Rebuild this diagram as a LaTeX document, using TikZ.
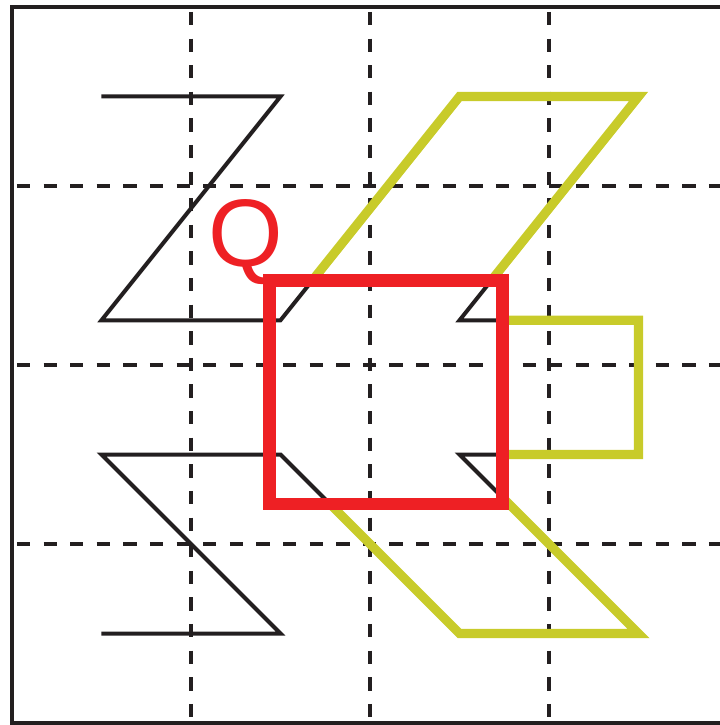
\documentclass[tikz,border=0pt]{standalone}
\usepackage{fontspec}
\setsansfont{Liberation Sans}
\usepackage{tikz}
\definecolor{ink}{HTML}{231F20}
\definecolor{moved}{HTML}{C8CB2A}
\definecolor{qred}{HTML}{EE2024}
\tikzset{
  frame/.style={draw=ink,line width=1.4pt},
  gridln/.style={draw=ink,line width=1.27pt,dash pattern=on 4.23pt off 4.23pt,dash phase=6.9pt},
  edge/.style={draw=ink,line width=1.27pt},
  movededge/.style={draw=moved,line width=2.9pt},
  region/.style={draw=qred,line width=4pt},
  qlabel/.style={text=qred,inner sep=0pt,anchor=base,
    font=\sffamily\fontsize{30.5}{36}\selectfont},
}

\begin{document}
\begin{tikzpicture}[x=2cm,y=2cm]
  \useasboundingbox (-0.067,-0.011) rectangle (3.955,4.039);
  \draw[frame] (0,0) rectangle (4,4);
  % dashed grid
  \draw[gridln] (1,4) -- (1,0);
  \draw[gridln] (2,4) -- (2,0);
  \draw[gridln] (3,4) -- (3,0);
  \draw[gridln] (0,3) -- (4,3);
  \draw[gridln] (0,2) -- (4,2);
  \draw[gridln] (0,1) -- (4,1);
  % the region Q
  \coordinate (qsw) at (1.439,1.223);
  \coordinate (qne) at (2.740,2.472);
  % the trail, black everywhere first
  \draw[edge] (0.5,3.5) -- (1.5,3.5) -- (0.5,2.25) -- (1.5,2.25)
    -- (2.5,3.5) -- (3.5,3.5) -- (2.5,2.25) -- (3.5,2.25)
    -- (3.5,1.5) -- (2.5,1.5) -- (3.5,0.5) -- (2.5,0.5)
    -- (1.5,1.5) -- (0.5,1.5) -- (1.5,0.5) -- (0.5,0.5);
  % right half outside Q in yellow
  \begin{scope}[even odd rule]
    \clip (-1,-1) rectangle (5,5) (qsw) rectangle (qne);
    \draw[movededge] (1.5,2.25) -- (2.5,3.5) -- (3.5,3.5) -- (2.5,2.25)
      -- (3.5,2.25) -- (3.5,1.5) -- (2.5,1.5) -- (3.5,0.5) -- (2.5,0.5)
      -- (1.5,1.5);
  \end{scope}
  \draw[region] (qsw) rectangle (qne);
  \node[qlabel] (qtag) at (1.304,2.553) {Q};
\end{tikzpicture}
\end{document}
